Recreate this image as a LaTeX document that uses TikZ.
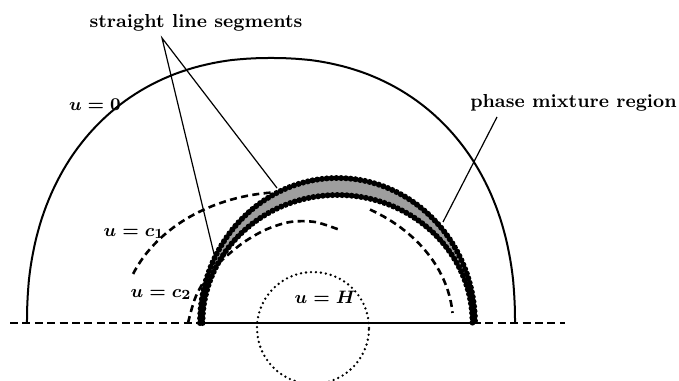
\documentclass[tikz,border=0pt]{standalone}
\begin{document}
\begin{tikzpicture}[x=0.5pt,y=-0.5pt,
  solidline/.style={line width=1pt},
  leader/.style={line width=0.6pt},
  basedash/.style={line width=0.8pt, dash pattern=on 4pt off 2.2pt},
  arcdash/.style={line width=1.3pt, dash pattern=on 3.5pt off 2.2pt},
  dotline/.style={line width=1.3pt, dash pattern=on 0pt off 2.5pt, line cap=round},
  blobs/.style={line width=3pt, dash pattern=on 0pt off 2.4pt, line cap=round},
  bandfill/.style={fill=black!38},
  lbl/.style={font=\fontsize{9.4pt}{11pt}\selectfont\boldmath\bfseries, inner sep=0pt}]
\useasboundingbox (0,0) rectangle (679,380);

% base line points
\coordinate (lineL) at (10,323);
\coordinate (bL) at (200,323);
\coordinate (bR) at (473,323);
\coordinate (lineR) at (565,323);
\draw[basedash] (lineL) -- (bL);
\draw[basedash] (bR) -- (lineR);

% outer boundary u = 0
\draw[solidline] plot[domain=0:180, samples=121, variable=\t]
  ({271+244*sign(cos(\t))*pow(abs(cos(\t))+0.0001,0.909)},
   {323-265*pow(abs(sin(\t))+0.0001,0.909)});

% level curve u = c1 (two visible pieces)
\draw[arcdash] plot[domain=158:88, samples=40, variable=\t]
  ({287+166*cos(\t)}, {323-131*sin(\t)});
\draw[arcdash] plot[domain=60:4.4, samples=30, variable=\t]
  ({287+166*cos(\t)}, {323-131*sin(\t)});

% level curve u = c2
\draw[arcdash] plot[smooth] coordinates {(188,323) (196,296) (212,270) (240,245) (265,230) (290,222) (315,222) (340,230)};

% dotted circle u = H
\coordinate (hc) at (313,328);
\draw[dotline] (hc) circle[radius=28pt];

% phase mixture band
\fill[bandfill] (200,323) arc[start angle=180,end angle=0,x radius=68.75pt,y radius=72.5pt]
  -- (472.5,323) arc[start angle=0,end angle=180,x radius=67.5pt,y radius=64pt] -- cycle;
\draw[blobs] (200,323) arc[start angle=180,end angle=0,x radius=68.75pt,y radius=72.5pt];
\draw[blobs] (202.5,323) arc[start angle=180,end angle=0,x radius=67.5pt,y radius=64pt];
\draw[solidline] (bL) -- (bR);

% labels
\node[lbl, anchor=base] (title) at (196,27) {straight line segments};
\node[lbl, anchor=base] (u0) at (95,110) {$u=0$};
\node[lbl, anchor=base] (uc1) at (134,236) {$u=c_1$};
\node[lbl, anchor=base] (uc2) at (161,297) {$u=c_2$};
\node[lbl, anchor=base] (uH) at (325,303) {$u=H$};
\node[lbl, anchor=base east] (phase) at (677,107) {phase mixture region};

% leaders
\coordinate (apex) at (162,38);
\coordinate (segA) at (215,258);
\coordinate (segB) at (277,188);
\draw[leader] (segA) -- (apex) -- (segB);
\coordinate (phA) at (497,117);
\coordinate (phB) at (443,222);
\draw[leader] (phA) -- (phB);
\end{tikzpicture}
\end{document}
